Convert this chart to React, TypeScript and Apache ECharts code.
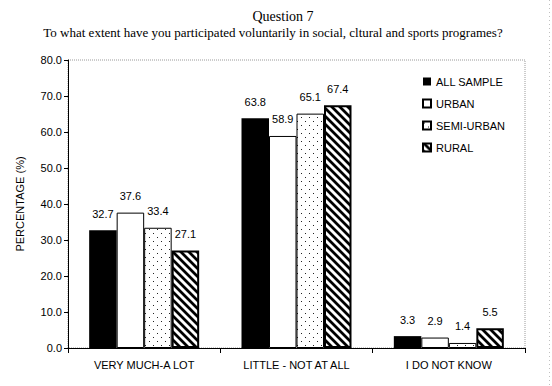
import React, { useEffect, useRef } from "react";
import * as echarts from "echarts";

const categories = ["VERY MUCH-A LOT", "LITTLE - NOT AT ALL", "I DO NOT KNOW"];
const seriesNames = ["ALL SAMPLE", "URBAN", "SEMI-URBAN", "RURAL"];
const allSample = [32.7, 63.8, 3.3];
const urban = [37.6, 58.9, 2.9];
const semiUrban = [33.4, 65.1, 1.4];
const rural = [27.1, 67.4, 5.5];
const titleLine1 = "Question 7";
const titleLine2 = "To what extent have you participated voluntarily in social, cltural and sports programes?";

function makeDots() {
  const c = document.createElement("canvas");
  c.width = 8;
  c.height = 8;
  const ctx = c.getContext("2d")!;
  ctx.fillStyle = "#ffffff";
  ctx.fillRect(0, 0, 8, 8);
  ctx.fillStyle = "#222222";
  ctx.fillRect(1, 1, 1, 1);
  ctx.fillRect(5, 5, 1, 1);
  return c;
}

function makeStripes() {
  const c = document.createElement("canvas");
  c.width = 8;
  c.height = 8;
  const ctx = c.getContext("2d")!;
  for (let y = 0; y < 8; y++) {
    for (let x = 0; x < 8; x++) {
      const k = (((x - y) % 8) + 8) % 8;
      let col = "#ffffff";
      if (k <= 2) col = "#000000";
      else if (k === 3 || k === 7) col = "#8a8a8a";
      ctx.fillStyle = col;
      ctx.fillRect(x, y, 1, 1);
    }
  }
  return c;
}

export default function App() {
  const ref = useRef<HTMLDivElement>(null);
  useEffect(() => {
    if (!ref.current) return;
    const chart = echarts.init(ref.current, null, { renderer: "svg" });
    const dots = { image: makeDots(), repeat: "repeat", imageWidth: 8, imageHeight: 8 } as any;
    const stripes = { image: makeStripes(), repeat: "repeat", imageWidth: 8, imageHeight: 8 } as any;
    const font = "'Liberation Sans', Arial, sans-serif";
    const label = {
      show: true,
      position: "top",
      distance: 11,
      color: "#000",
      fontSize: 11,
      fontFamily: font,
      formatter: (p: any) => Number(p.value).toFixed(1),
    };
    const styles = [
      { color: "#000000", borderColor: "#000000", borderWidth: 0 },
      { color: "#ffffff", borderColor: "#000000", borderWidth: 1 },
      { color: dots, borderColor: "#000000", borderWidth: 1 },
      { color: stripes, borderColor: "#000000", borderWidth: 2 },
    ];
    const data = [allSample, urban, semiUrban, rural];
    chart.setOption({
      animation: false,
      backgroundColor: "#ffffff",
      grid: {
        left: 68,
        top: 60,
        right: 27,
        bottom: 38,
        show: true,
        borderColor: "#9a9a9a",
        borderWidth: 1,
        borderType: "dotted",
      } as any,
      graphic: [
        {
          type: "text",
          x: 283,
          y: 16,
          style: {
            text: titleLine1,
            fontFamily: "'Liberation Serif', 'Times New Roman', serif",
            fontSize: 14,
            fill: "#000",
            align: "center",
            verticalAlign: "middle",
          },
        },
        {
          type: "text",
          x: 273,
          y: 32,
          style: {
            text: titleLine2,
            fontFamily: "'Liberation Serif', 'Times New Roman', serif",
            fontSize: 13,
            fill: "#000",
            align: "center",
            verticalAlign: "middle",
          },
        },
        {
          type: "line",
          shape: { x1: 549.5, y1: 0, x2: 549.5, y2: 386 },
          style: { stroke: "#c0c0c0", lineWidth: 1, lineDash: [1, 3] },
        },
      ],
      legend: {
        orient: "vertical",
        left: 417,
        top: 71,
        itemWidth: 8,
        itemHeight: 8,
        itemGap: 11,
        icon: "rect",
        data: seriesNames,
        textStyle: { color: "#000", fontSize: 11, fontFamily: font },
      },
      xAxis: {
        type: "category",
        data: categories,
        axisLine: { lineStyle: { color: "#000", width: 1 } },
        axisTick: { show: true, length: 5, lineStyle: { color: "#000" } },
        axisLabel: { color: "#000", fontSize: 11, fontFamily: font, margin: 11 },
      },
      yAxis: {
        type: "value",
        min: 0,
        max: 80,
        interval: 10,
        name: "PERCENTAGE (%)",
        nameLocation: "middle",
        nameRotate: 90,
        nameGap: 43,
        nameTextStyle: { color: "#000", fontSize: 11, fontFamily: font },
        axisLine: { show: true, lineStyle: { color: "#000", width: 1 } },
        axisTick: { show: true, length: 4, lineStyle: { color: "#000" } },
        splitLine: { show: false },
        axisLabel: {
          color: "#000",
          fontSize: 11,
          fontFamily: font,
          margin: 6,
          formatter: (v: number) => v.toFixed(1),
        },
      },
      series: seriesNames.map((name, i) => ({
        name,
        type: "bar",
        data: data[i],
        barWidth: 27.5,
        barGap: "0%",
        itemStyle: styles[i],
        label,
      })),
    } as any);
    return () => chart.dispose();
  }, []);
  return (
    <div
      ref={ref}
      style={{ position: "fixed", left: 0, top: 0, width: 552, height: 386, background: "#fff" }}
    />
  );
}
